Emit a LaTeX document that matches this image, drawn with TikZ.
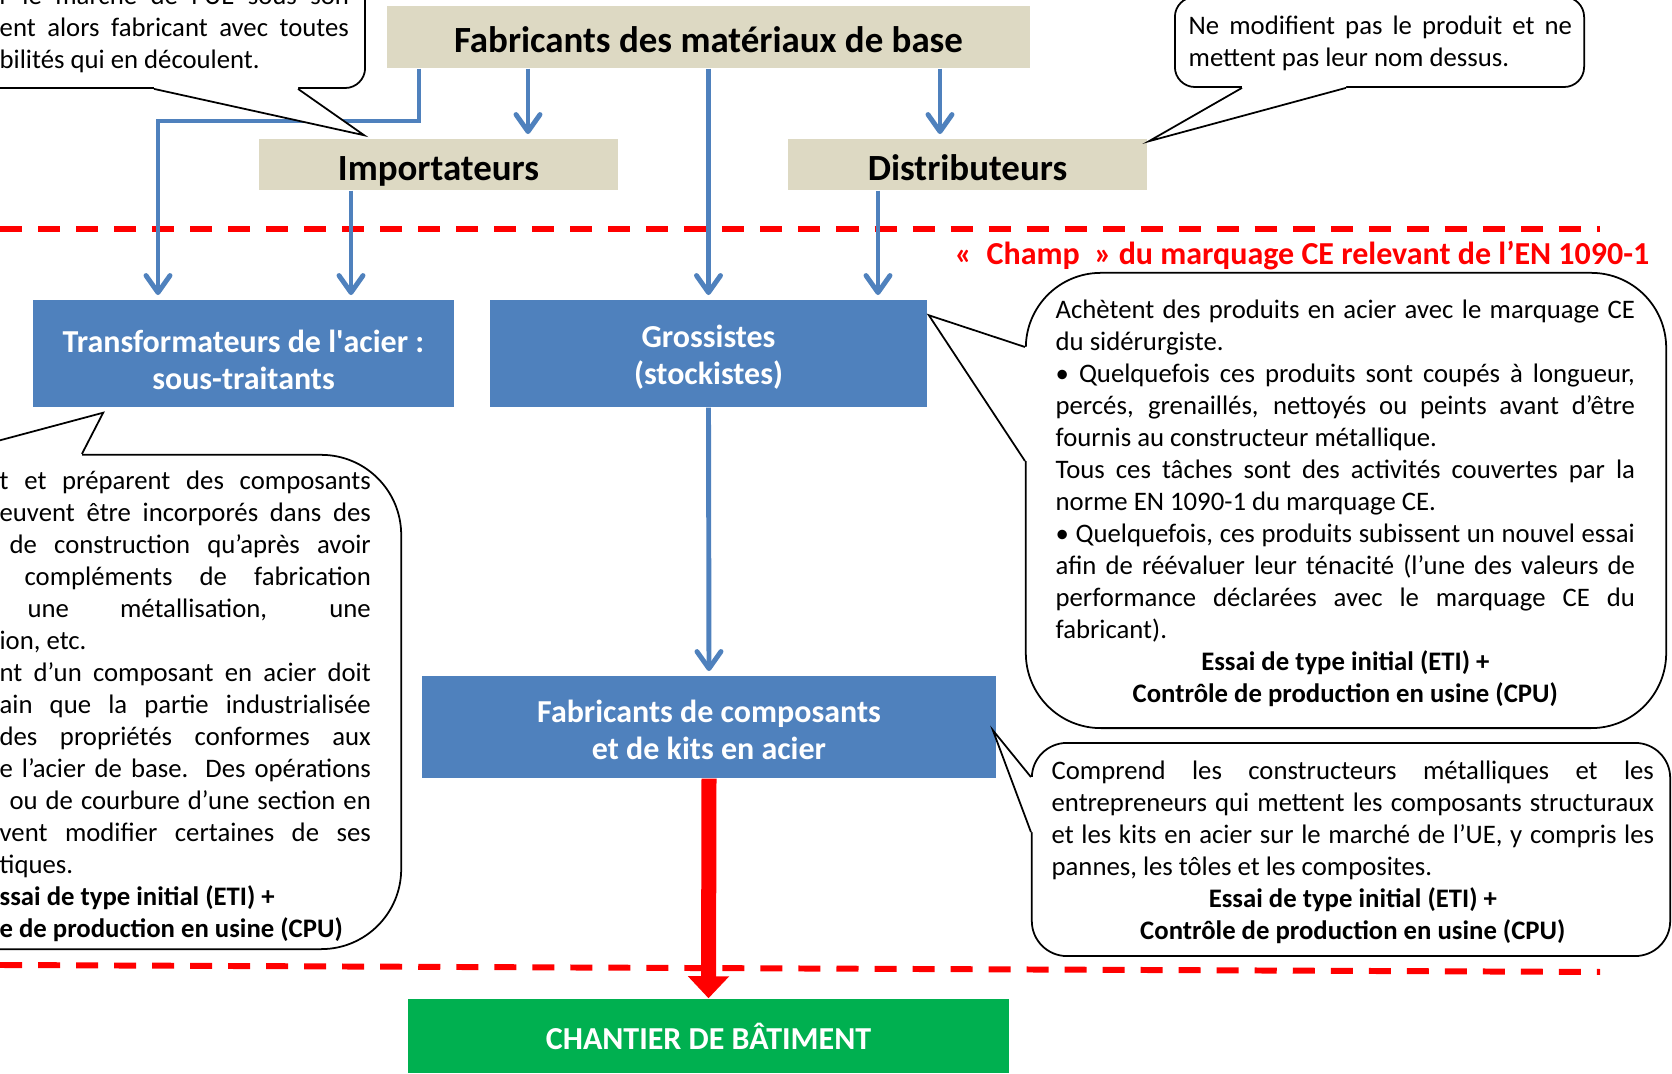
\documentclass[tikz,border=0pt]{standalone}
\usepackage{fontspec}
\setmainfont{Carlito}
\usetikzlibrary{arrows.meta, positioning, calc}
\setlength{\parindent}{0pt}
\definecolor{boxblue}{HTML}{4F81BD}
\definecolor{boxtan}{HTML}{DDD9C3}
\definecolor{sitegreen}{HTML}{00B050}
\newcommand{\calltail}[4]{%
  \fill[white] #1 -- #2 -- #3 -- ($#3+#4$) -- ($#1+#4$) -- cycle;
  \draw[line width=0.5pt] #1 -- #2 -- #3;}
\newcommand{\notebox}[2]{%
  \parbox[t]{#1}{\leftskip=0pt\relax\rightskip=0pt\relax
    \parfillskip=0pt plus 1fil\relax\hyphenpenalty=10000\relax\tolerance=10000\relax #2}}
\newcommand{\bstrut}[1]{\rule{0pt}{#1}}

\tikzset{
  tanbox/.style={fill=boxtan, inner sep=0pt, text height=9pt, text depth=0pt,
    font=\fontsize{10.5}{12}\selectfont\bfseries},
  bluebox/.style={fill=boxblue, text=white, align=center, inner sep=0pt,
    font=\fontsize{9.1}{10.5}\selectfont\bfseries},
  flow/.style={draw=boxblue, line width=1.4pt, shorten >=1.2pt,
    -{Straight Barb[length=0.17cm, width=0.24cm, round]}},
  bubble/.style={draw, line width=0.5pt, fill=white, inner sep=0pt, rounded corners=#1},
  bubble/.default=0.2cm,
  notetext/.style={anchor=base west, inner sep=0pt, font=\fontsize{7.6}{9.1}\selectfont},
  champline/.style={draw=red, line width=1.7pt, dash pattern=on 0.22cm off 0.16cm},
}

\begin{document}
\begin{tikzpicture}[x=0.01cm, y=-0.01cm]
  \useasboundingbox (0,0) rectangle (1672,1074);

  % limites du champ
  \draw[champline] (0,229) -- (1600,229);
  \draw[champline] (0,965) -- (1600,972);
  \node[anchor=east, inner sep=0pt, text=red, font=\fontsize{9.1}{10}\selectfont\bfseries] (champ)
    at (1650,256) {«\ \ Champ\ \ » du marquage CE relevant de l’EN 1090-1};

  % acteurs
  \node[tanbox, minimum width=6.43cm, minimum height=0.62cm] (base) at (708.5,37) {Fabricants des matériaux de base};
  \node[tanbox, minimum width=3.59cm, minimum height=0.51cm] (import) at (438.5,164.5) {Importateurs};
  \node[tanbox, minimum width=3.59cm, minimum height=0.51cm] (distrib) at (967.5,164.5) {Distributeurs};
  \node[bluebox, minimum width=4.21cm, minimum height=1.07cm] (transfo) at (243.5,353.5) {\bstrut{10pt}Transformateurs de l\textquotesingle acier :\\sous-traitants};
  \node[bluebox, minimum width=4.37cm, minimum height=1.07cm] (gross) at (708.5,353.5) {\bstrut{8.3pt}Grossistes\\(stockistes)};
  \node[bluebox, minimum width=5.74cm, minimum height=1.02cm] (compo) at (709,727) {\bstrut{8pt}Fabricants de composants\\et de kits en acier};
  \node[bluebox, fill=sitegreen, minimum width=6.01cm, minimum height=0.74cm] (site) at (708.5,1036) {CHANTIER DE BÂTIMENT};

  % flux
  \draw[flow] (419,0 |- base.south) -- (419,121) -| (158,0 |- transfo.north);
  \draw[flow] (528,0 |- base.south) -- (528,0 |- import.north);
  \draw[flow] (base.south) -- (gross.north);
  \draw[flow] (940,0 |- base.south) -- (940,0 |- distrib.north);
  \draw[flow] (351,0 |- import.south) -- (351,0 |- transfo.north);
  \draw[flow] (878,0 |- distrib.south) -- (878,0 |- gross.north);
  \draw[flow] (gross.south) -- (compo.north);
  \draw[draw=red, line width=0.15cm, -{Triangle[width=0.4cm, length=0.22cm]}] (compo.south) -- (site.north);

  % bulles
  \node[bubble, minimum width=4.05cm, minimum height=1.28cm] (importNote) at (162.5,24) {};
  \coordinate (i1) at ($(importNote.south west)+(195,0)$);
  \coordinate (i2) at ($(importNote.south west)+(339,0)$);
  \coordinate (itip) at ($(import.north west)+(106,-3)$);
  \calltail{(i1)}{(itip)}{(i2)}{(0,-3)}
  \node[notetext] (importText) at ($(importNote.north west)+(40,45)$)
    {\notebox{3.49cm}{r le marché de l’UE sous son\linebreak
     ent alors fabricant avec toutes\linebreak
     bilités qui en découlent.}};

  \node[bubble, minimum width=4.09cm, minimum height=0.90cm] (distribNote) at (1379.5,42) {};
  \coordinate (d1) at ($(distribNote.south west)+(68,0)$);
  \coordinate (d2) at ($(distribNote.south west)+(172,0)$);
  \coordinate (dtip) at ($(distrib.north east)+(1,3)$);
  \calltail{(d1)}{(dtip)}{(d2)}{(0,-3)}
  \node[notetext] (distribText) at ($(distribNote.north west)+(14,38)$)
    {\notebox{3.83cm}{Ne modifient pas le produit et ne\linebreak mettent pas leur nom dessus.}};

  \node[bubble=0.8cm, minimum width=7.01cm, minimum height=4.94cm] (transfoNote) at (50.5,702) {};
  \coordinate (t1) at ($(transfoNote.north west)+(383,0)$);
  \coordinate (t2) at ($(transfoNote.north west)+(250,0)$);
  \coordinate (ttip) at ($(transfo.south west)+(71,5)$);
  \calltail{(t1)}{(ttip)}{(t2)}{(0,3)}
  \node[notetext] (transfoText) at ($(transfoNote.north west)+(300,36)$)
    {\notebox{3.71cm}{t et préparent des composants\linebreak
     euvent être incorporés dans des\linebreak
     \hspace*{0.1cm}de construction qu’après avoir\linebreak
     \hspace*{0.25cm}compléments de fabrication\linebreak
     \hspace*{0.28cm}une métallisation, une\linebreak
     ion, etc.\par
     nt d’un composant en acier doit\linebreak
     ain que la partie industrialisée\linebreak
     des propriétés conformes aux\linebreak
     e l’acier de base. Des opérations\linebreak
     \hspace*{0.1cm}ou de courbure d’une section en\linebreak
     vent modifier certaines de ses\linebreak
     tiques.\par
     \textbf{ssai de type initial (ETI) +}\par
     \textbf{e de production en usine (CPU)}}};

  \node[bubble=0.75cm, minimum width=6.40cm, minimum height=4.55cm] (grossNote) at (1346,500.5) {};
  \coordinate (g1) at ($(grossNote.north west)+(0,75)$);
  \coordinate (g2) at ($(grossNote.north west)+(0,189)$);
  \coordinate (gtip) at ($(gross.north east)+(1,16)$);
  \calltail{(g1)}{(gtip)}{(g2)}{(3,0)}
  \node[notetext] (grossText) at ($(grossNote.north west)+(30,47)$)
    {\notebox{5.79cm}{Achètent des produits en acier avec le marquage CE\linebreak du sidérurgiste.\par
     • Quelquefois ces produits sont coupés à longueur,\linebreak
     percés, grenaillés, nettoyés ou peints avant d’être\linebreak
     fournis au constructeur métallique.\par
     Tous ces tâches sont des activités couvertes par la\linebreak
     norme EN 1090-1 du marquage CE.\par
     • Quelquefois, ces produits subissent un nouvel essai\linebreak
     afin de réévaluer leur ténacité (l’une des valeurs de\linebreak
     performance déclarées avec le marquage CE du\linebreak
     fabricant).\par
     {\centering\bfseries Essai de type initial (ETI) +\\ Contrôle de production en usine (CPU)\par}}};

  \node[bubble=0.35cm, minimum width=6.38cm, minimum height=2.13cm] (compoNote) at (1351,849.5) {};
  \coordinate (c1) at ($(compoNote.north west)+(0,35)$);
  \coordinate (c2) at ($(compoNote.north west)+(0,90)$);
  \coordinate (ctip) at ($(compo.north east)+(-4,55)$);
  \calltail{(c1)}{(ctip)}{(c2)}{(3,0)}
  \node[notetext] (compoText) at ($(compoNote.north west)+(20,37)$)
    {\notebox{6.02cm}{Comprend les constructeurs métalliques et les\linebreak
     entrepreneurs qui mettent les composants structuraux\linebreak
     et les kits en acier sur le marché de l’UE, y compris les\linebreak
     pannes, les tôles et les composites.\par
     {\centering\bfseries Essai de type initial (ETI) +\\ Contrôle de production en usine (CPU)\par}}};
\end{tikzpicture}
\end{document}
